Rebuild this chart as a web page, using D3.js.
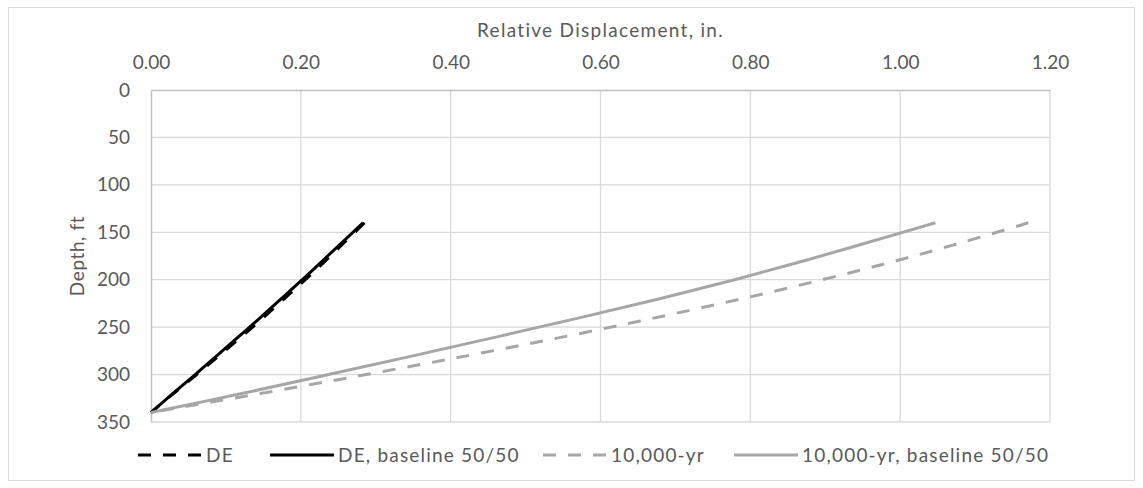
<!DOCTYPE html>
<html>
<head>
<meta charset="utf-8">
<script src="https://cdn.jsdelivr.net/npm/d3@7/dist/d3.min.js"></script>
<style>
  html, body { margin: 0; padding: 0; background: #fff; }
  svg { display: block; }
  text { font-family: Lato, "Noto Sans", sans-serif; fill: #595959; }
</style>
</head>
<body>
<svg id="chart" width="1143" height="488"></svg>
<script>
// Depth profile (ft) shared by every series
const depths = [340, 320, 300, 280, 260, 240, 220, 200, 180, 160, 140];

// Relative displacement (in.) at each depth
const deValues            = [0, 0.030, 0.061, 0.091, 0.121, 0.150, 0.178, 0.206, 0.233, 0.259, 0.285];
const deBaselineValues    = [0, 0.029, 0.059, 0.088, 0.117, 0.146, 0.174, 0.202, 0.229, 0.256, 0.283];
const yr10kValues         = [0, 0.146, 0.287, 0.423, 0.552, 0.674, 0.789, 0.896, 0.995, 1.086, 1.171];
const yr10kBaselineValues = [0, 0.121, 0.237, 0.351, 0.463, 0.573, 0.679, 0.779, 0.872, 0.960, 1.047];

const seriesNames = ["DE", "DE, baseline 50/50", "10,000-yr", "10,000-yr, baseline 50/50"];

// Axis ticks
const xTicks = [0, 0.2, 0.4, 0.6, 0.8, 1.0, 1.2];
const yTicks = [0, 50, 100, 150, 200, 250, 300, 350];

const xTitle = "Relative Displacement, in.";
const yTitle = "Depth, ft";

const DASH = 13, GAP = 12;
const series = [
  { name: seriesNames[0], values: deValues,            color: "#000000", dashed: true },
  { name: seriesNames[1], values: deBaselineValues,    color: "#000000", dashed: false },
  { name: seriesNames[2], values: yr10kValues,         color: "#a6a6a6", dashed: true },
  { name: seriesNames[3], values: yr10kBaselineValues, color: "#a6a6a6", dashed: false }
];

const svg = d3.select("#chart");
const plot = { left: 151, right: 1050, top: 90, bottom: 422 };

// Outer chart frame
svg.append("rect")
  .attr("x", 8.5).attr("y", 7.5)
  .attr("width", 1126).attr("height", 473)
  .attr("fill", "#fff").attr("stroke", "#d9d9d9").attr("stroke-width", 1);

const x = d3.scaleLinear().domain([0, 1.2]).range([plot.left, plot.right]);
const y = d3.scaleLinear().domain([0, 350]).range([plot.top, plot.bottom]);

// Gridlines
const grid = svg.append("g");
grid.selectAll("line.vx").data(xTicks.slice(1)).enter().append("line")
  .attr("x1", d => x(d)).attr("x2", d => x(d))
  .attr("y1", plot.top).attr("y2", plot.bottom)
  .attr("stroke", "#d9d9d9").attr("stroke-width", 1.3);
grid.selectAll("line.hy").data(yTicks.slice(1)).enter().append("line")
  .attr("x1", plot.left).attr("x2", plot.right)
  .attr("y1", d => y(d)).attr("y2", d => y(d))
  .attr("stroke", "#d9d9d9").attr("stroke-width", 1.3);

// Axes (top = displacement, left = depth increasing downward)
const xAxis = svg.append("g")
  .attr("transform", `translate(0,${plot.top})`)
  .call(d3.axisTop(x).tickValues(xTicks).tickFormat(d3.format(".2f")).tickSize(0).tickPadding(21));
const yAxis = svg.append("g")
  .attr("transform", `translate(${plot.left},0)`)
  .call(d3.axisLeft(y).tickValues(yTicks).tickFormat(d3.format("d")).tickSize(0).tickPadding(21));

[xAxis, yAxis].forEach(a => {
  a.select(".domain").attr("stroke", "#bfbfbf").attr("stroke-width", 1.5);
  a.selectAll("text").style("font-size", "19px").attr("fill", "#595959");
});

// Axis titles
svg.append("text")
  .attr("x", (plot.left + plot.right) / 2).attr("y", 37)
  .attr("text-anchor", "middle").style("font-size", "19px")
  .style("letter-spacing", "1.3px")
  .text(xTitle);
svg.append("text")
  .attr("transform", `translate(84,${(plot.top + plot.bottom) / 2}) rotate(-90)`)
  .attr("text-anchor", "middle").style("font-size", "19px")
  .style("letter-spacing", "0.6px")
  .text(yTitle);

// Series lines
const line = d3.line()
  .x(d => x(d[0]))
  .y(d => y(d[1]))
  .curve(d3.curveCatmullRom.alpha(0.5));

const lines = svg.append("g");
series.forEach(s => {
  const pts = s.values.map((v, i) => [v, depths[i]]);
  const path = lines.append("path")
    .datum(pts)
    .attr("d", line)
    .attr("fill", "none")
    .attr("stroke", s.color)
    .attr("stroke-width", 3)
    .attr("stroke-linejoin", "round");
  if (s.dashed) {
    // shift the dash pattern so the line finishes on a full dash
    const period = DASH + GAP;
    const len = path.node().getTotalLength();
    const offset = ((DASH - len) % period + period) % period;
    path.attr("stroke-dasharray", `${DASH},${GAP}`)
      .attr("stroke-dashoffset", offset);
  }
});

// Legend
const legendY = 455;
const legendStarts = [138, 270, 543, 734];
const legend = svg.append("g");
series.forEach((s, i) => {
  const g = legend.append("g").attr("transform", `translate(${legendStarts[i]},${legendY})`);
  g.append("line")
    .attr("x1", 0).attr("x2", 64).attr("y1", 0).attr("y2", 0)
    .attr("stroke", s.color).attr("stroke-width", 3)
    .attr("stroke-dasharray", s.dashed ? `${DASH},${GAP}` : null);
  g.append("text")
    .attr("x", 68).attr("y", 0).attr("dy", "0.35em")
    .style("font-size", "19px")
    .style("letter-spacing", "1.2px")
    .text(s.name);
});
</script>
</body>
</html>
